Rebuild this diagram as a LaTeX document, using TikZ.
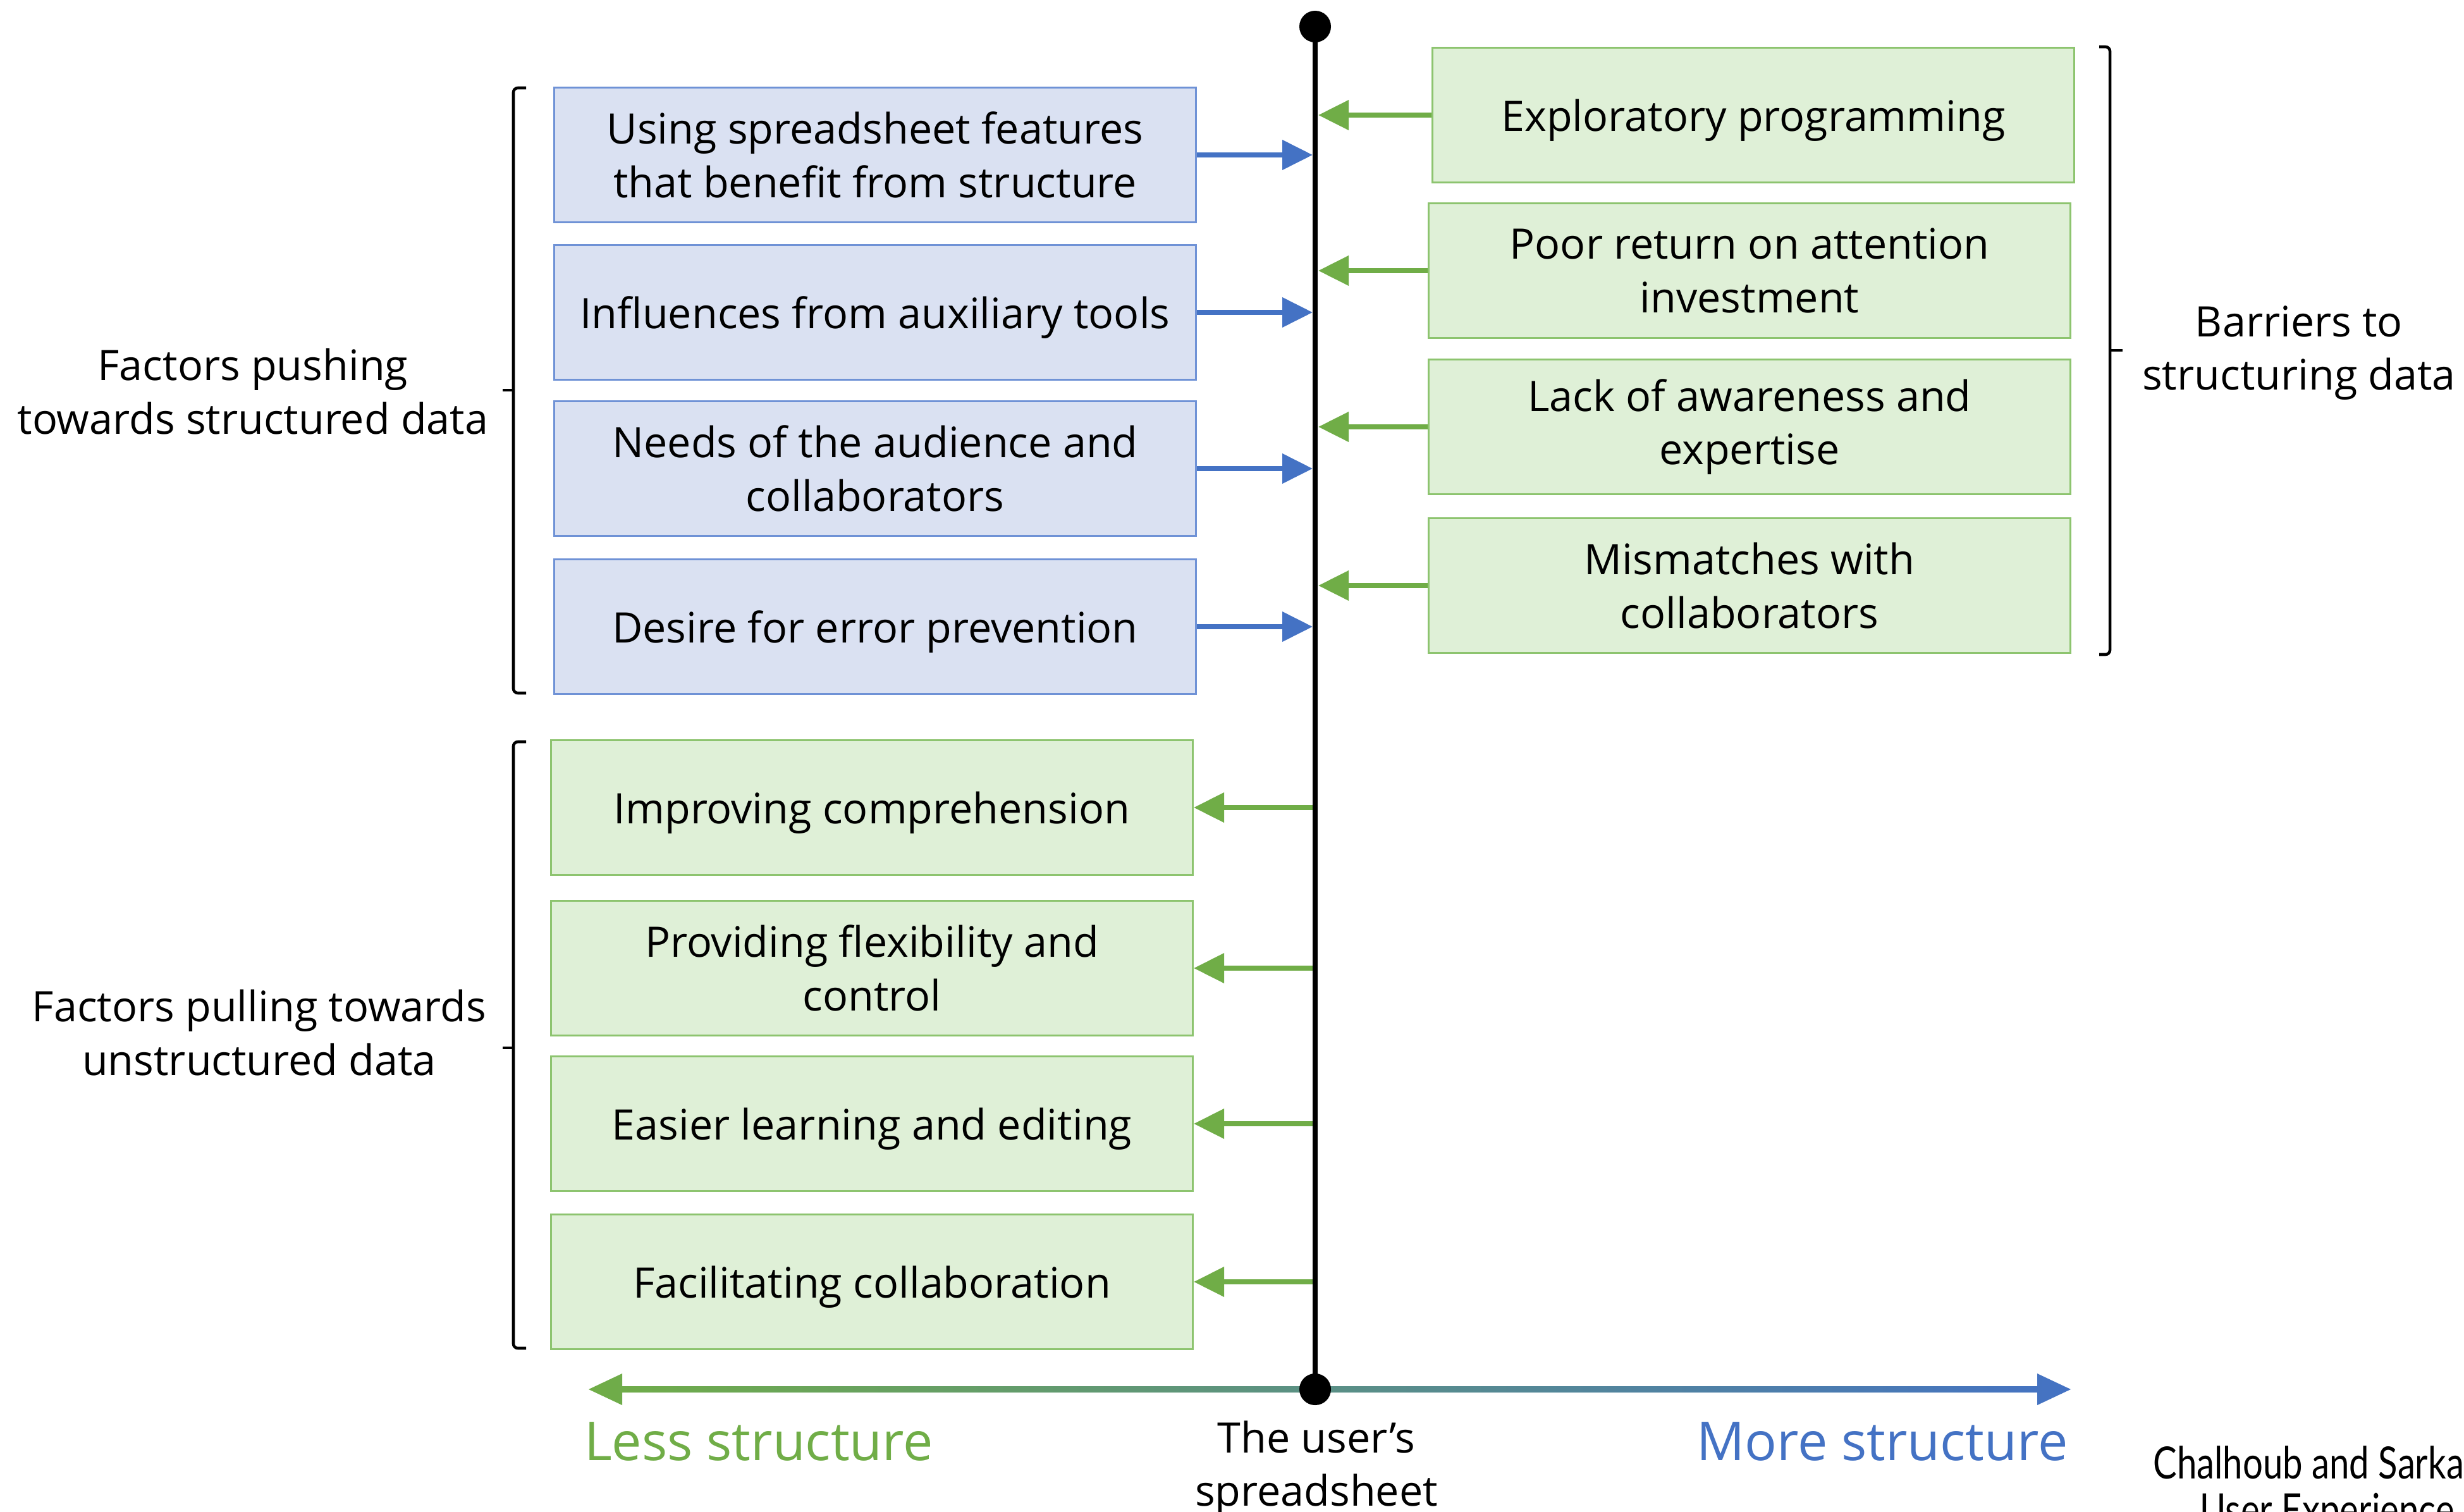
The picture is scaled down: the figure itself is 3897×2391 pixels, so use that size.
\documentclass[tikz,border=0pt]{standalone}
\usepackage{fontspec}
\setmainfont{Open Sans}
\newfontfamily\citefont[FakeStretch=0.8]{Lato}
\usetikzlibrary{arrows.meta, positioning, calc}

\definecolor{pushfill}{HTML}{DAE1F2}
\definecolor{pushline}{HTML}{6F92D6}
\definecolor{pushblue}{HTML}{4472C4}
\definecolor{pullfill}{HTML}{DFF0D7}
\definecolor{pullline}{HTML}{8DC46F}
\definecolor{pullgreen}{HTML}{70AD47}

\newcommand{\factorfont}{\fontsize{18.9}{24}\selectfont}
\newcommand{\axisfont}{\fontsize{24}{28}\selectfont}

\begin{document}
\begin{tikzpicture}
  [
    x=0.01cm, y=-0.01cm,
    factor/.style={draw,line width=1pt,minimum width=10.14cm,minimum height=2.13cm,
      align=center,inner sep=0pt,font=\factorfont},
    oneline/.style={text height=19pt,text depth=4.4pt},
    pushbox/.style={factor,fill=pushfill,draw=pushline},
    pullbox/.style={factor,fill=pullfill,draw=pullline},
    pusharrow/.style={pushblue,line width=2.1pt,-{Triangle[length=0.48cm,width=0.46cm]}},
    pullarrow/.style={pullgreen,line width=2.1pt,-{Triangle[length=0.48cm,width=0.46cm]}},
    bracket/.style={line width=1.3pt,rounded corners=2pt},
    sidelabel/.style={align=center,font=\factorfont}
  ]
  \useasboundingbox (0,0) rectangle (3897,2391);
  \clip (0,0) rectangle (3897,2391);

  % axis of structure
  \coordinate (top) at (2080,42);
  \coordinate (sheet) at (2080,2197);
  \shade[left color=pullgreen, right color=pushblue]
    (931,2197) -- (984,2172) -- (984,2192) -- (3222,2192) -- (3222,2172) -- (3275,2197)
    -- (3222,2222) -- (3222,2202) -- (984,2202) -- (984,2222) -- cycle;
  \draw [line width=2.1pt] (top) -- (sheet);
  \fill (top) circle (0.25cm);
  \fill (sheet) circle (0.25cm);
  \node [font=\axisfont, text=pullgreen] (less) at (1200,2280) {Less structure};
  \node [font=\axisfont, text=pushblue] (more) at (2977,2280) {More structure};
  \node [sidelabel] (userssheet) at (2082,2322) {The user’s\\spreadsheet};

  % pushing towards structure
  \node [pushbox] (push1) at (1384,245) {Using spreadsheet features\\that benefit from structure};
  \node [pushbox,oneline] (push2) at (1384,494) {Influences from auxiliary tools};
  \node [pushbox] (push3) at (1384,741) {Needs of the audience and\\collaborators};
  \node [pushbox,oneline] (push4) at (1384,991) {Desire for error prevention};
  \foreach \n in {push1,push2,push3,push4} {
      \draw [pusharrow] (\n.east) -- ($(\n.east -| top)+(-4,0)$);
  }
  \draw [bracket] (832,139) -- (812,139) -- (812,1096) -- (832,1096);
  \draw [bracket] (812,617) -- (795,617);
  \node [sidelabel] (pushlbl) at (400,619) {Factors pushing\\towards structured data};

  % pulling towards less structure
  \node [pullbox,oneline] (pull1) at (1379,1277) {Improving comprehension};
  \node [pullbox] (pull2) at (1379,1531) {Providing flexibility and\\control};
  \node [pullbox,oneline] (pull3) at (1379,1777) {Easier learning and editing};
  \node [pullbox,oneline] (pull4) at (1379,2027) {Facilitating collaboration};
  \foreach \n in {pull1,pull2,pull3,pull4} {
      \draw [pullarrow] ($(\n.east -| top)+(-4,0)$) -- (\n.east);
  }
  \draw [bracket] (832,1173) -- (812,1173) -- (812,2132) -- (832,2132);
  \draw [bracket] (812,1657) -- (795,1657);
  \node [sidelabel] (pulllbl) at (410,1633) {Factors pulling towards\\unstructured data};

  % barriers
  \node [pullbox,oneline] (bar1) at (2773,182) {Exploratory programming};
  \node [pullbox] (bar2) at (2767,428) {Poor return on attention\\investment};
  \node [pullbox] (bar3) at (2767,675) {Lack of awareness and\\expertise};
  \node [pullbox] (bar4) at (2767,926) {Mismatches with\\collaborators};
  \foreach \n in {bar1,bar2,bar3,bar4} {
      \draw [pullarrow] (\n.west) -- ($(\n.west -| top)+(5,0)$);
  }
  \draw [bracket] (3320,74) -- (3337,74) -- (3337,1035) -- (3320,1035);
  \draw [bracket] (3337,554) -- (3357,554);
  \node [sidelabel] (barlbl) at (3636,558) {Barriers to\\structuring data};

  % source
  \node [anchor=base west, inner sep=0pt, font=\citefont\fontsize{20}{24}\selectfont]
    (cite1) at (3405,2338) {Chalhoub and Sarkar};
  \node [anchor=base west, inner sep=0pt, font=\citefont\fontsize{20}{24}\selectfont]
    (cite2) at (3479,2412) {User Experience of};
\end{tikzpicture}
\end{document}
